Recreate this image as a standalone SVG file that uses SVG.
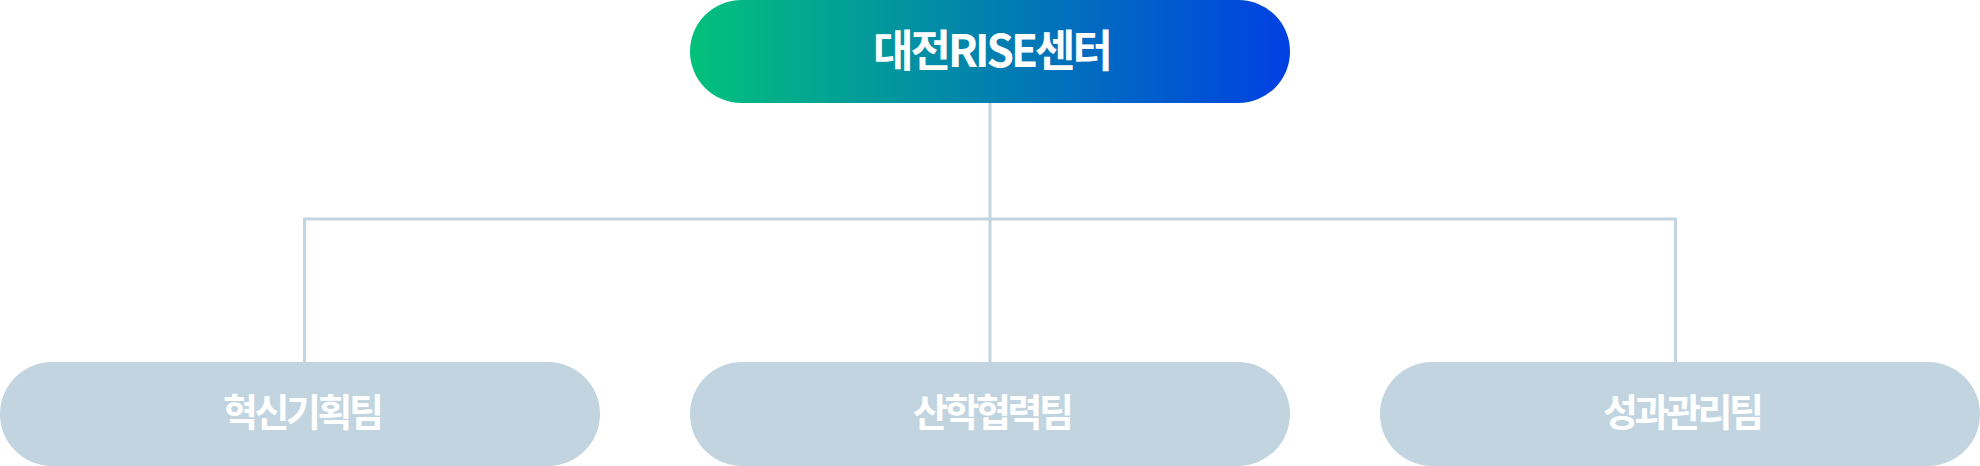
<svg xmlns="http://www.w3.org/2000/svg" width="1980" height="466" viewBox="0 0 1980 466">
  <defs>
    <linearGradient id="g" x1="0" y1="0" x2="1" y2="0">
      <stop offset="0" stop-color="#03c17b"/>
      <stop offset="1" stop-color="#0040e3"/>
    </linearGradient>
  </defs>
  <style>
    .team { fill: #c1d4df; }
    .lbl { font-family: "Noto Sans CJK KR", "Noto Sans", sans-serif; font-weight: 700; fill: #ffffff; text-anchor: middle; }
    .top { font-size: 44px; letter-spacing: -3px; }
    .sub { font-size: 38px; letter-spacing: -3.5px; }
    .conn { fill: none; stroke: #c1d4df; stroke-width: 3; }
  </style>
  <rect width="1980" height="466" fill="#ffffff"/>
  <g id="connectors">
    <path class="conn" d="M990 103 V362"/>
    <path class="conn" d="M304.5 362 V219 H1675.5 V362"/>
  </g>
  <g id="node-center">
    <rect x="690" y="0" width="600" height="103" rx="51.5" fill="url(#g)"/>
    <text class="lbl top" x="991.5" y="67">대전RISE센터</text>
  </g>
  <g id="node-innovation">
    <rect class="team" x="0" y="362" width="600" height="104" rx="52"/>
    <text class="lbl sub" x="301.75" y="426">혁신기획팀</text>
  </g>
  <g id="node-industry">
    <rect class="team" x="690" y="362" width="600" height="104" rx="52"/>
    <text class="lbl sub" x="991.75" y="426">산학협력팀</text>
  </g>
  <g id="node-performance">
    <rect class="team" x="1380" y="362" width="600" height="104" rx="52"/>
    <text class="lbl sub" x="1681.75" y="426">성과관리팀</text>
  </g>
</svg>
